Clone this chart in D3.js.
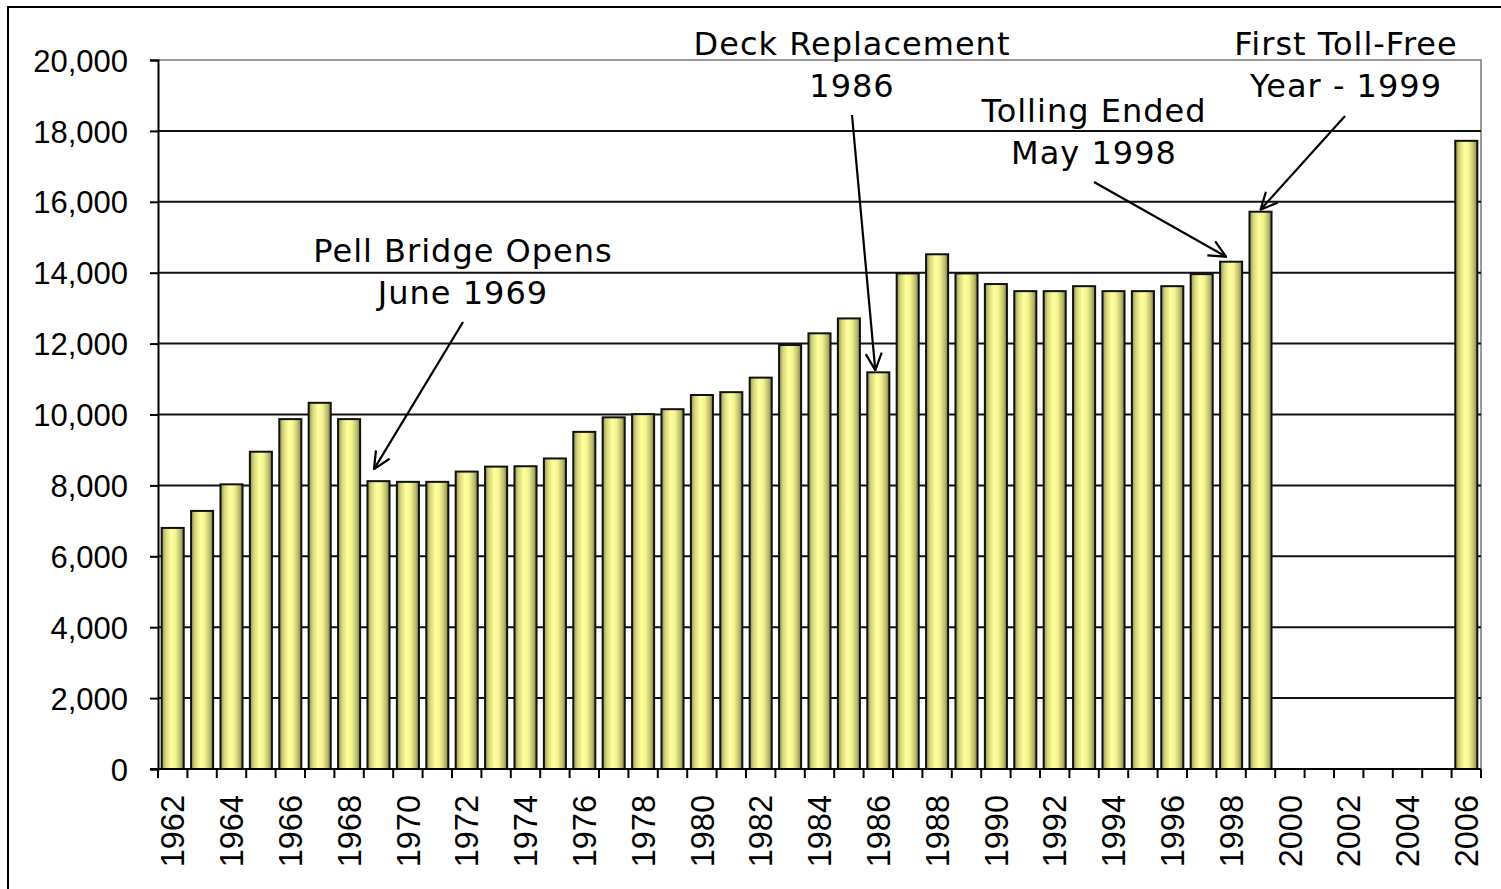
<!DOCTYPE html>
<html>
<head>
<meta charset="utf-8">
<script src="https://cdn.jsdelivr.net/npm/d3@7"></script>
<style>
  html, body { margin: 0; padding: 0; background: #fff; }
  svg { display: block; }
  .axis text { font-family: "Liberation Sans", Arial, sans-serif; fill: #000; }
  .note { font-family: "DejaVu Sans", Verdana, sans-serif; fill: #000; }
</style>
</head>
<body>
<svg id="chart" width="1501" height="889"></svg>
<script>
// Annual traffic by year (vehicles per day); 2000-2005 have no figures.
const years = d3.range(1962, 2007).map(String);
const traffic = [
  6800, 7280, 8030, 8950, 9870, 10330, 9870, 8120, 8100, 8100,
  8390, 8530, 8540, 8760, 9510, 9920, 10010, 10150, 10550, 10630,
  11040, 11960, 12290, 12710, 11190, 13980, 14520, 13980, 13680, 13480,
  13480, 13620, 13480, 13480, 13620, 13960, 14310, 15720,
  null, null, null, null, null, null,
  17720
];
const yTicks = [0, 2000, 4000, 6000, 8000, 10000, 12000, 14000, 16000, 18000, 20000];
const yearLabels = years.filter((d, i) => i % 2 === 0);

// Event notes, each pointing at one year's bar
const noteYears = ["1969", "1986", "1998", "1999"];
const noteLines = [
  ["Pell Bridge Opens", "June 1969"],
  ["Deck Replacement", "1986"],
  ["Tolling Ended", "May 1998"],
  ["First Toll-Free", "Year - 1999"]
];

// Layout for the notes: text centre / first baseline, arrow tail, arrow tip offset from bar top
const noteLayout = [
  { cx: 463,  y: 262, tail: [463, 322],  tip: [-4.5, -12] },
  { cx: 852,  y: 55,  tail: [852, 115],  tip: [-3, -2] },
  { cx: 1094, y: 122, tail: [1094, 182], tip: [-5, -5] },
  { cx: 1346, y: 55,  tail: [1345, 116], tip: [0, -2] }
];

const svg = d3.select("#chart");
const plot = { left: 158, right: 1481, top: 60, bottom: 769 };

const x = d3.scaleBand()
  .domain(years)
  .range([plot.left, plot.right])
  .paddingInner(0.25)
  .paddingOuter(0.125);

const y = d3.scaleLinear()
  .domain([0, 20000])
  .range([plot.bottom, plot.top]);

// Bar gradient: dark olive edges, pale yellow centre
const defs = svg.append("defs");
const grad = defs.append("linearGradient")
  .attr("id", "barFill")
  .attr("x1", "0").attr("x2", "1").attr("y1", "0").attr("y2", "0");
[[0, "#8e8e52"], [0.18, "#d6d67c"], [0.42, "#ffff9c"], [0.62, "#f4f494"], [0.85, "#bcbc6a"], [1, "#7a7a44"]]
  .forEach(([o, c]) => grad.append("stop").attr("offset", o).attr("stop-color", c));

defs.append("marker")
  .attr("id", "arrowHead")
  .attr("markerUnits", "userSpaceOnUse")
  .attr("viewBox", "0 0 20 20")
  .attr("refX", 19).attr("refY", 10)
  .attr("markerWidth", 20).attr("markerHeight", 20)
  .attr("orient", "auto")
  .append("path")
  .attr("d", "M2,2 L19,10 L2,18")
  .attr("fill", "none")
  .attr("stroke", "#000")
  .attr("stroke-width", 2.2);

// Outer frame
svg.append("rect")
  .attr("x", 8).attr("y", 7)
  .attr("width", 1510).attr("height", 900)
  .attr("fill", "#fff")
  .attr("stroke", "#000")
  .attr("stroke-width", 2);

// Plot area border (grey)
svg.append("path")
  .attr("d", `M${plot.left},${plot.top}H${plot.right}V${plot.bottom}`)
  .attr("fill", "none")
  .attr("stroke", "#9a9a9a")
  .attr("stroke-width", 2);

// Horizontal gridlines
svg.append("g")
  .selectAll("line")
  .data(yTicks.filter(v => v > 0 && v < 20000))
  .join("line")
  .attr("x1", plot.left).attr("x2", plot.right)
  .attr("y1", d => y(d)).attr("y2", d => y(d))
  .attr("stroke", "#111")
  .attr("stroke-width", 2);

// Bars
const rows = years.map((yr, i) => ({ year: yr, value: traffic[i] })).filter(d => d.value != null);
svg.append("g")
  .selectAll("rect")
  .data(rows)
  .join("rect")
  .attr("x", d => x(d.year))
  .attr("width", x.bandwidth())
  .attr("y", d => y(d.value))
  .attr("height", d => y(0) - y(d.value))
  .attr("fill", "url(#barFill)")
  .attr("stroke", "#111")
  .attr("stroke-width", 2);

// Y axis
const yAxis = svg.append("g")
  .attr("class", "axis")
  .attr("transform", `translate(${plot.left},0)`)
  .call(d3.axisLeft(y).tickValues(yTicks).tickFormat(d3.format(",")).tickSize(8).tickPadding(22));
yAxis.select(".domain").attr("stroke", "#000").attr("stroke-width", 2);
yAxis.selectAll(".tick line").attr("stroke", "#000").attr("stroke-width", 2);
yAxis.selectAll("text").style("font-size", "31px").attr("dy", "0.36em");

// X axis: ticks between categories, labels on every second year
const step = x.step();
const half = (step - x.bandwidth()) / 2;
const boundaries = years.map(d => x(d) - half).concat([plot.right]);
const xAxis = svg.append("g").attr("class", "axis");
xAxis.append("line")
  .attr("x1", plot.left - 8).attr("x2", plot.right)
  .attr("y1", plot.bottom).attr("y2", plot.bottom)
  .attr("stroke", "#000").attr("stroke-width", 2);
xAxis.selectAll(".xt")
  .data(boundaries)
  .join("line")
  .attr("class", "xt")
  .attr("x1", d => d).attr("x2", d => d)
  .attr("y1", plot.bottom).attr("y2", plot.bottom + 9)
  .attr("stroke", "#000").attr("stroke-width", 2);
xAxis.selectAll(".xl")
  .data(yearLabels)
  .join("text")
  .attr("class", "xl")
  .attr("transform", d => `translate(${x(d) + x.bandwidth() / 2},${plot.bottom + 26}) rotate(-90)`)
  .attr("text-anchor", "end")
  .attr("dy", "0.36em")
  .style("font-size", "32.5px")
  .text(d => d);

// Event notes with arrows
const valueOf = yr => traffic[years.indexOf(yr)];
const notes = svg.append("g");
noteYears.forEach((yr, i) => {
  const L = noteLayout[i];
  const tipX = x(yr) + x.bandwidth() / 2 + L.tip[0];
  const tipY = y(valueOf(yr)) + L.tip[1];
  notes.append("line")
    .attr("x1", L.tail[0]).attr("y1", L.tail[1])
    .attr("x2", tipX).attr("y2", tipY)
    .attr("stroke", "#000")
    .attr("stroke-width", 2.2)
    .attr("marker-end", "url(#arrowHead)");
  const t = notes.append("text")
    .attr("class", "note")
    .attr("text-anchor", "middle")
    .style("font-size", "32px")
    .style("letter-spacing", "1px");
  noteLines[i].forEach((line, j) => {
    t.append("tspan")
      .attr("x", L.cx)
      .attr("y", L.y + j * 42)
      .text(line);
  });
});
</script>
</body>
</html>
